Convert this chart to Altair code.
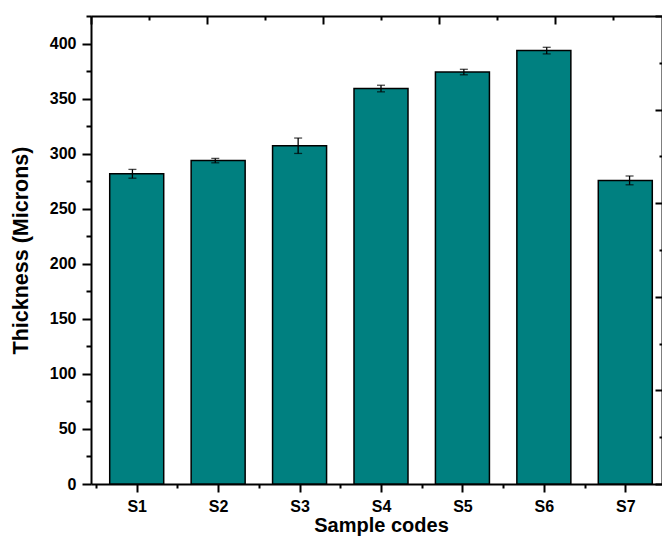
import json
import altair as alt
import pandas as pd

categories = ["S1", "S2", "S3", "S4", "S5", "S6", "S7"]
thickness = [282, 294, 307.5, 359.5, 374.5, 394, 276]
errors = [4, 2, 7, 3, 2.5, 3, 4]

df = pd.DataFrame({
    "idx": list(range(1, len(categories) + 1)),
    "code": categories,
    "thickness": thickness,
})
df["lo"] = df["thickness"] - pd.Series(errors)
df["hi"] = df["thickness"] + pd.Series(errors)

FONT = "Liberation Sans"
PLOT_W = 580
x_scale = alt.Scale(domain=[0.5, 7.5], range=[0, PLOT_W], nice=False, zero=False)
y_scale = alt.Scale(domain=[0, 425.45], nice=False)

x_axis = alt.Axis(
    orient="bottom",
    title="Sample codes",
    values=[v / 2 for v in range(1, 16)],
    labelExpr=f"datum.value % 1 === 0 ? {json.dumps(categories)}[datum.value - 1] : ''",
    tickSize={"condition": {"test": "datum.value % 1 === 0", "value": 8}, "value": 4},
    tickWidth=2, tickColor="black",
    domainWidth=2, domainColor="black",
    labelFont=FONT, labelFontSize=16, labelFontWeight="bold", labelColor="black",
    labelPadding=6, labelFlush=False, labelOverlap=False,
    titleFont=FONT, titleFontSize=20, titleFontWeight="bold", titleColor="black",
    titleY=31, titleBaseline="top", grid=False,
)
y_axis = alt.Axis(
    orient="left",
    title="Thickness (Microns)",
    values=list(range(0, 426, 25)),
    labelExpr="datum.value % 50 === 0 ? datum.label : ''",
    tickSize={"condition": {"test": "datum.value % 50 === 0", "value": 9}, "value": 5},
    tickWidth=2, tickColor="black",
    domainWidth=2, domainColor="black",
    labelFont=FONT, labelFontSize=16, labelFontWeight="bold", labelColor="black",
    labelPadding=6, labelFlush=False, labelOverlap=False,
    titleFont=FONT, titleFontSize=21.5, titleFontWeight="bold", titleColor="black",
    titlePadding=17, grid=False,
)

bars = alt.Chart(df).mark_bar(
    size=54, color="#008080", stroke="black", strokeWidth=1.5
).encode(
    x=alt.X("idx:Q", scale=x_scale, axis=x_axis),
    y=alt.Y("thickness:Q", scale=y_scale, axis=y_axis),
)

errbars = alt.Chart(df).mark_errorbar(
    color="black", thickness=1.3,
    ticks={"size": 8, "thickness": 1.3, "color": "black"},
).encode(
    x=alt.X("idx:Q", scale=x_scale, axis=None),
    y=alt.Y("lo:Q", scale=y_scale, axis=None),
    y2=alt.Y2("hi:Q"),
)

frame_x = alt.Scale(domain=[0, 10], range=[0, PLOT_W], nice=False, zero=False)
frame_y = alt.Scale(domain=[0, 10], nice=False, zero=False)
frame = alt.Chart(df).mark_point(opacity=0).encode(
    x=alt.X("idx:Q", scale=frame_x, axis=alt.Axis(
        orient="top", title=None, labels=False, values=list(range(0, 11)),
        tickSize={"expr": "datum.value % 2 === 0 ? -8 : -4"},
        tickWidth=2, tickColor="black", domainWidth=2, domainColor="black", grid=False,
    )),
    y=alt.Y("idx:Q", scale=frame_y, axis=alt.Axis(
        orient="right", title=None, labels=False, values=list(range(0, 11)),
        tickSize={"expr": "datum.value % 2 === 0 ? -7 : -3"},
        tickWidth=2, tickColor="black", domainWidth=2, domainColor="black", grid=False,
    )),
)

chart = alt.layer(
    bars, errbars, frame,
).resolve_scale(
    x="independent", y="independent"
).properties(
    width=571, height=468,
    autosize=alt.AutoSizeParams(type="none"),
    padding={"left": 83, "top": 8, "right": 0, "bottom": 53},
).configure_view(stroke=None)

chart.save("out.html", embed_options={"renderer": "svg", "actions": False})
